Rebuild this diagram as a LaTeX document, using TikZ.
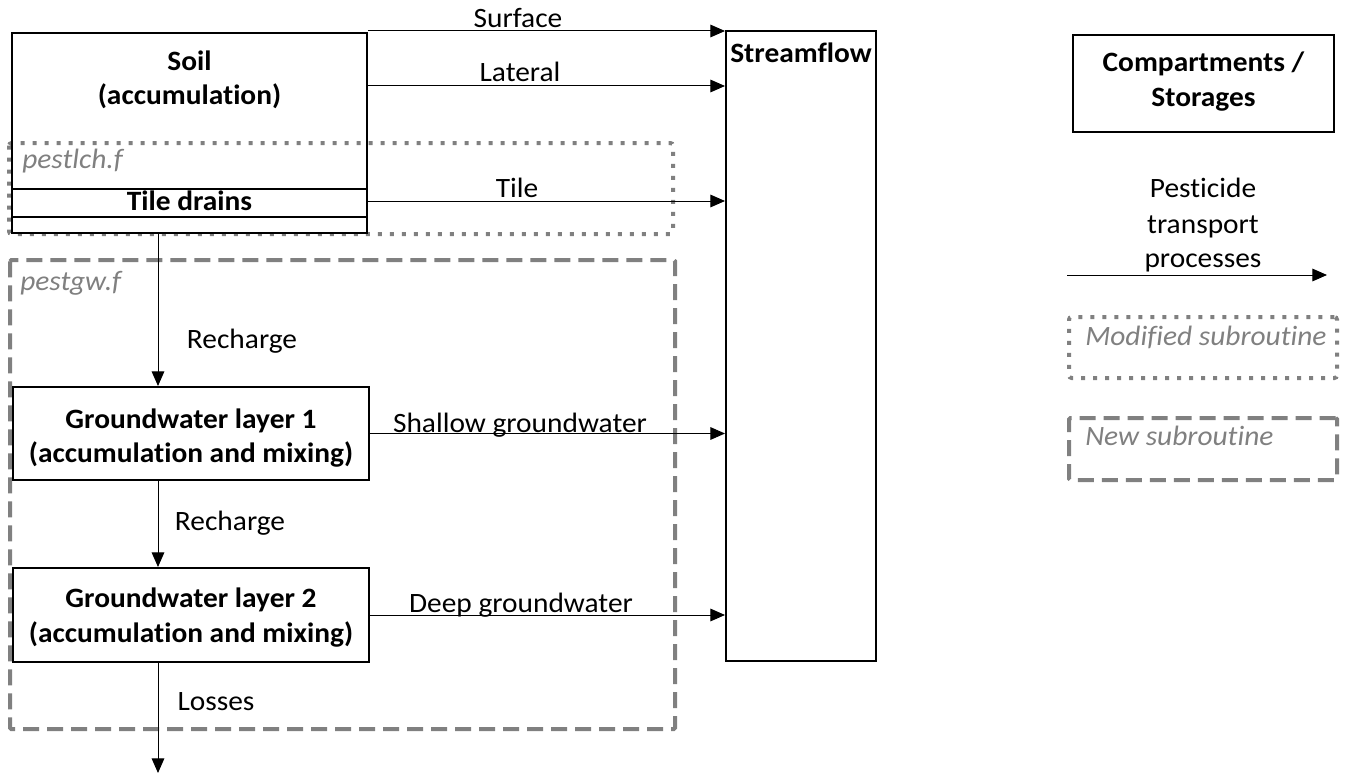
\documentclass[tikz,border=0pt]{standalone}
\usepackage{fontspec}
\setmainfont{Carlito}[FakeStretch=1.05, Ligatures={NoCommon}]
\usetikzlibrary{arrows.meta}
\definecolor{grayc}{RGB}{128,128,128}
\begin{document}
\begin{tikzpicture}[x=0.75pt,y=-0.75pt,
  box/.style={draw, line width=1.5pt, inner sep=0pt, align=center, font=\fontsize{21}{25.5}\selectfont\bfseries},
  btxt/.style={inner sep=0pt, font=\fontsize{21}{25.5}\selectfont\bfseries},
  lbl/.style={inner sep=0pt, anchor=base, font=\fontsize{21}{25.5}\selectfont},
  ilbl/.style={inner sep=0pt, anchor=base west, text=grayc, font=\fontsize{21}{25.5}\selectfont\itshape},
  flow/.style={-{Triangle[length=11pt,width=9.5pt]}, line width=0.75pt},
  dotbox/.style={draw=grayc, line width=3pt, dash pattern=on 3pt off 6pt, rounded corners=2pt},
  dashbox/.style={draw=grayc, line width=3pt, dash pattern=on 12pt off 6pt, rounded corners=1pt}]
\useasboundingbox (0,0) rectangle (1346,774);
% subroutine frames
\draw[dotbox] (9,143) rectangle (673,234);
\draw[dashbox] (10,260) rectangle (675,729);
% compartments
\node[box, minimum width=266.25pt, minimum height=150pt] (soil) at (189.5,133) {};
\node[btxt, anchor=base] (soilt1) at (189.5,70) {Soil};
\node[btxt, anchor=base] (soilt2) at (189.5,104) {(accumulation)};
\node[box, minimum width=266.25pt, minimum height=21pt] (tile) at (189.5,203) {};
\node[btxt, anchor=base] (tilet) at (189.5,210) {Tile drains};
\node[box, minimum width=112.5pt, minimum height=472.5pt] (stream) at (801,346) {};
\node[btxt, anchor=base] (streamt) at (801,63) {Streamflow};
\node[box, minimum width=267pt, minimum height=69.75pt] (gw1) at (191,433.5) {};
\node[btxt, anchor=base] (gw1a) at (191,428) {Groundwater layer 1};
\node[btxt, anchor=base] (gw1b) at (191,462) {(accumulation and mixing)};
\node[box, minimum width=267pt, minimum height=70.5pt] (gw2) at (191,615) {};
\node[btxt, anchor=base] (gw2a) at (191,607) {Groundwater layer 2};
\node[btxt, anchor=base] (gw2b) at (191,642) {(accumulation and mixing)};
% frame labels
\node[ilbl] (lchlbl) at (22,168) {pestlch.f};
\node[ilbl] (gwlbl) at (20,290) {pestgw.f};
% helper coordinates
\coordinate (latY) at (0,86);
\coordinate (tileY) at (0,201);
\coordinate (vx) at (158,0);
\coordinate (lossend) at (158,773);
% horizontal flows
\draw[flow] (soil.north east) ++(0,-1) coordinate (surfs) -- (surfs -| stream.west);
\draw[flow] (soil.east |- latY) -- (stream.west |- latY);
\draw[flow] (tile.east |- tileY) -- (stream.west |- tileY);
\draw[flow] (gw1.east) -- (gw1.east -| stream.west);
\draw[flow] (gw2.east) -- (gw2.east -| stream.west);
% vertical flows
\draw[flow] (soil.south -| vx) -- (gw1.north -| vx);
\draw[flow] (gw1.south -| vx) -- (gw2.north -| vx);
\draw[flow] (gw2.south -| vx) -- (lossend);
% flow labels
\node[lbl] (surfl) at (518,28) {Surface};
\node[lbl] (latl) at (520,82) {Lateral};
\node[lbl] (tilel) at (517,197) {Tile};
\node[lbl] (shall) at (520,432) {Shallow groundwater};
\node[lbl] (deepl) at (521,612) {Deep groundwater};
\node[lbl] (rech1) at (242,348) {Recharge};
\node[lbl] (rech2) at (230,530) {Recharge};
\node[lbl] (lossl) at (216,710) {Losses};
% legend
\node[box, minimum width=195.75pt, minimum height=72.75pt] (legcomp) at (1203.5,83.5) {};
\node[btxt, anchor=base] (legc1) at (1203.5,72) {Compartments /};
\node[btxt, anchor=base] (legc2) at (1203.5,107) {Storages};
\node[lbl] (legp1) at (1203,197) {Pesticide};
\node[lbl] (legp2) at (1203,233) {transport};
\node[lbl] (legp3) at (1203,267) {processes};
\coordinate (legas) at (1067,275);
\coordinate (legae) at (1327,275);
\draw[flow] (legas) -- (legae);
\node[dotbox, minimum width=201pt, minimum height=45.75pt, inner sep=0pt] (legmod) at (1203,347.5) {};
\node[ilbl] (legmodt) at (1085,345) {Modified subroutine};
\node[dashbox, minimum width=201pt, minimum height=46.5pt, inner sep=0pt] (legnew) at (1203,449) {};
\node[ilbl] (legnewt) at (1085,445) {New subroutine};
\end{tikzpicture}
\end{document}
